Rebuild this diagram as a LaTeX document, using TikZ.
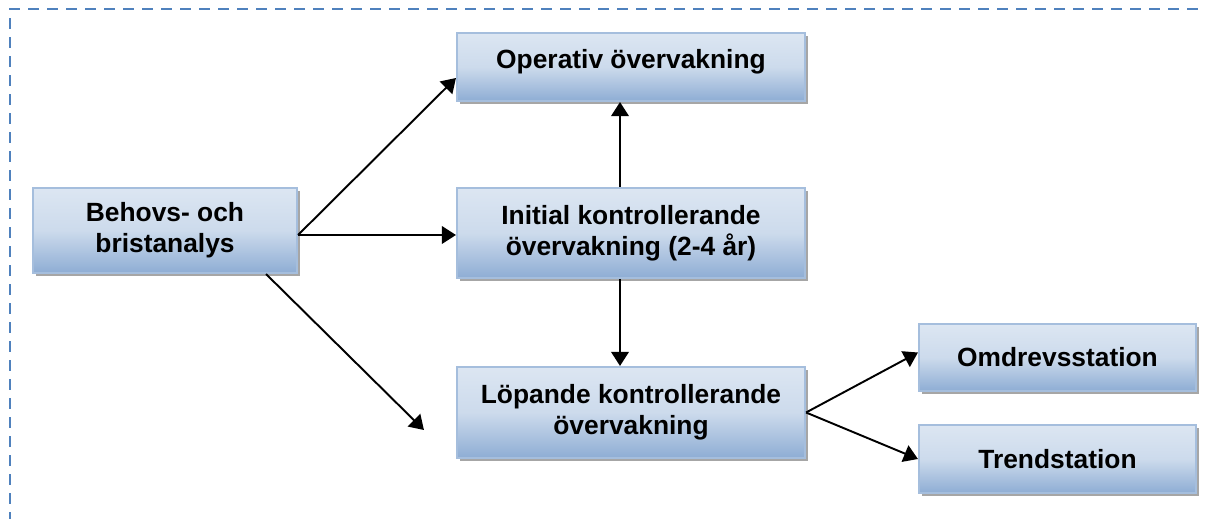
\documentclass[tikz,border=0pt]{standalone}
\usepackage{fontspec}
\setmainfont{Liberation Sans}
\usepackage{tikz}
\usetikzlibrary{arrows.meta,shadows,calc}
\definecolor{boxlight}{HTML}{DCE6F2}
\definecolor{boxdark}{HTML}{8EADD4}
\definecolor{boxline}{HTML}{A5BEDD}
\definecolor{frameblue}{HTML}{4F81BD}

\begin{document}
\begin{tikzpicture}[
	stepbox/.style={draw=boxline,line width=1.2pt,top color=boxlight,bottom color=boxdark,middle color=boxlight!80!boxdark,
		drop shadow={shadow xshift=0.06cm,shadow yshift=-0.06cm,fill=gray!70,opacity=1},
		align=center,font=\fontsize{15}{17.5}\selectfont\bfseries,inner sep=0pt},
	flow/.style={-{Triangle[length=8pt,width=10pt]},line width=1.1pt}]
	\useasboundingbox (0,0) rectangle (24.1,10.36);
	\clip (0,0) rectangle (24.1,10.36);
	%FRAME
	\draw[frameblue,line width=1.7pt,dash pattern=on 0.22cm off 0.16cm] (0.2,-2) -- (0.2,10.18) -- (26,10.18);
	
	%BOXES
	\node[stepbox,minimum width=5.28cm,minimum height=1.70cm] (beh) at (3.30,5.75) {Behovs- och\\bristanalys};
	\node[stepbox,minimum width=6.96cm,minimum height=1.36cm,text depth=0.34cm] (op) at (12.62,9.02) {Operativ övervakning};
	\node[stepbox,minimum width=6.96cm,minimum height=1.80cm] (init) at (12.62,5.70) {Initial kontrollerande\\övervakning (2-4 år)};
	\node[stepbox,minimum width=6.96cm,minimum height=1.82cm] (lop) at (12.62,2.11) {Löpande kontrollerande\\övervakning};
	\node[stepbox,minimum width=5.54cm,minimum height=1.34cm] (om) at (21.15,3.21) {Omdrevsstation};
	\node[stepbox,minimum width=5.54cm,minimum height=1.36cm] (tr) at (21.15,1.18) {Trendstation};
	\coordinate (lopend) at ($(lop.west)+(-0.64,-0.35)$);
	
	%ARROWS
	\draw[flow] ([yshift=-0.09cm]beh.east) -- ([yshift=-0.22cm]op.west);
	\draw[flow] ([yshift=-0.09cm]beh.east) -- ([yshift=-0.04cm]init.west);
	\draw[flow] ([xshift=-0.64cm]beh.south east) -- (lopend);
	\draw[flow] ([xshift=-0.22cm]init.north) -- ([xshift=-0.22cm]op.south);
	\draw[flow] ([xshift=-0.22cm]init.south) -- ([xshift=-0.22cm]lop.north);
	\draw[flow] (lop.east) -- ([yshift=0.1cm]om.west);
	\draw[flow] (lop.east) -- (tr.west);
\end{tikzpicture}
\end{document}
